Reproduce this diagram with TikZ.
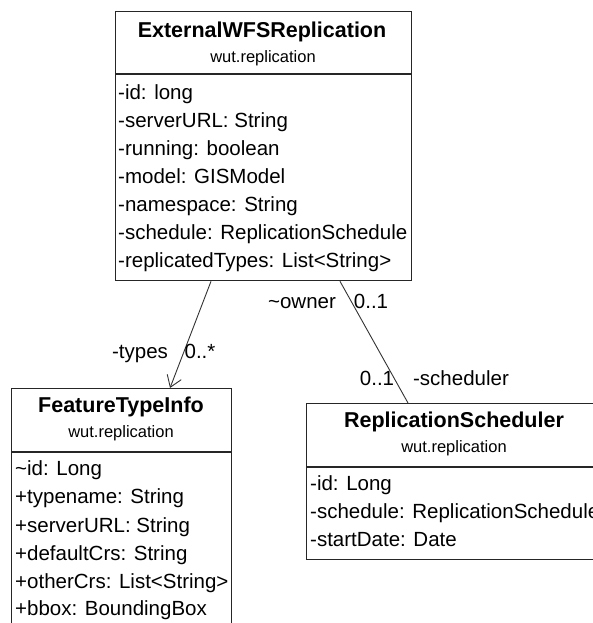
\documentclass[tikz,border=0pt]{standalone}
\usepackage{fontspec}
\setmainfont{Liberation Sans}
\usetikzlibrary{arrows.meta,calc}
\begin{document}
\begin{tikzpicture}[x=1pt,y=-1pt,
 box/.style={draw=black!85, line width=1.3pt, inner sep=0pt, anchor=north west},
 ttl/.style={font=\fontsize{21.5}{25}\selectfont\bfseries, inner sep=0pt, text height=15pt, text depth=4pt},
 pkg/.style={font=\fontsize{16.5}{19}\selectfont, inner sep=0pt, text height=12pt, text depth=3pt},
 attr/.style={font=\fontsize{20.5}{24}\selectfont, inner sep=0pt, anchor=west, text height=15pt, text depth=4pt},
 lbl/.style={font=\fontsize{20.5}{24}\selectfont, inner sep=0pt, text height=15pt, text depth=4pt},
 divline/.style={draw=black!85, line width=1.3pt},
 conn/.style={draw=black!80, line width=0.9pt}]
\useasboundingbox (0,0) rectangle (593,623);
\fill[white] (0,0) rectangle (593,623);
\begin{scope}
\clip (0,0) rectangle (593,623);
% ExternalWFSReplication
\node[box, minimum width=296pt, minimum height=269pt] (ext) at (115,11) {};
\node[ttl] (extT) at (262,32) {ExternalWFSReplication};
\node[pkg] (extP) at (263,58) {wut.replication};
\draw[divline] (ext.west |- 0,74) -- (ext.east |- 0,74);
\node[attr] (e1) at (118,94) {-id: long};
\node[attr] (e2) at (118,122) {-serverURL: String};
\node[attr] (e3) at (118,150) {-running: boolean};
\node[attr] (e4) at (118,178) {-model: GISModel};
\node[attr] (e5) at (118,206) {-namespace: String};
\node[attr] (e6) at (118,234) {-schedule: ReplicationSchedule};
\node[attr] (e7) at (118,262) {-replicatedTypes: List<String>};
% FeatureTypeInfo
\node[box, minimum width=220pt, minimum height=260pt] (fti) at (11,388) {};
\node[ttl] (ftiT) at (121,407) {FeatureTypeInfo};
\node[pkg] (ftiP) at (121,433) {wut.replication};
\draw[divline] (fti.west |- 0,452) -- (fti.east |- 0,452);
\node[attr] (f1) at (15,470) {\textasciitilde id: Long};
\node[attr] (f2) at (15,498) {+typename: String};
\node[attr] (f3) at (15,527) {+serverURL: String};
\node[attr] (f4) at (15,555) {+defaultCrs: String};
\node[attr] (f5) at (15,583) {+otherCrs: List<String>};
\node[attr] (f6) at (15,610) {+bbox: BoundingBox};
% ReplicationScheduler
\node[box, minimum width=296pt, minimum height=156pt] (rs) at (306,403) {};
\node[ttl] (rsT) at (454,422) {ReplicationScheduler};
\node[pkg] (rsP) at (454,448) {wut.replication};
\draw[divline] (rs.west |- 0,467) -- (rs.east |- 0,467);
\node[attr] (r1) at (310,485) {-id: Long};
\node[attr] (r2) at (310,513) {-schedule: ReplicationSchedule};
\node[attr] (r3) at (310,541) {-startDate: Date};
% connectors
\coordinate (extA) at ($(ext.south west)+(96,0)$);
\coordinate (ftiA) at ($(fti.north west)+(159,0)$);
\coordinate (extB) at ($(ext.south west)+(225,0)$);
\coordinate (rsB) at ($(rs.north west)+(102,0)$);
\draw[conn, -{Straight Barb[length=11pt,width=15pt,line width=0.9pt]}] (extA) -- (ftiA);
\draw[conn] (extB) -- (rsB);
\node[lbl] (l1) at (140,353) {-types};
\node[lbl] (l2) at (200,353) {0..*};
\node[lbl] (l3) at (302,303) {\textasciitilde owner};
\node[lbl] (l4) at (371,303) {0..1};
\node[lbl] (l5) at (377,380) {0..1};
\node[lbl] (l6) at (461,380) {-scheduler};
\end{scope}
\end{tikzpicture}
\end{document}
